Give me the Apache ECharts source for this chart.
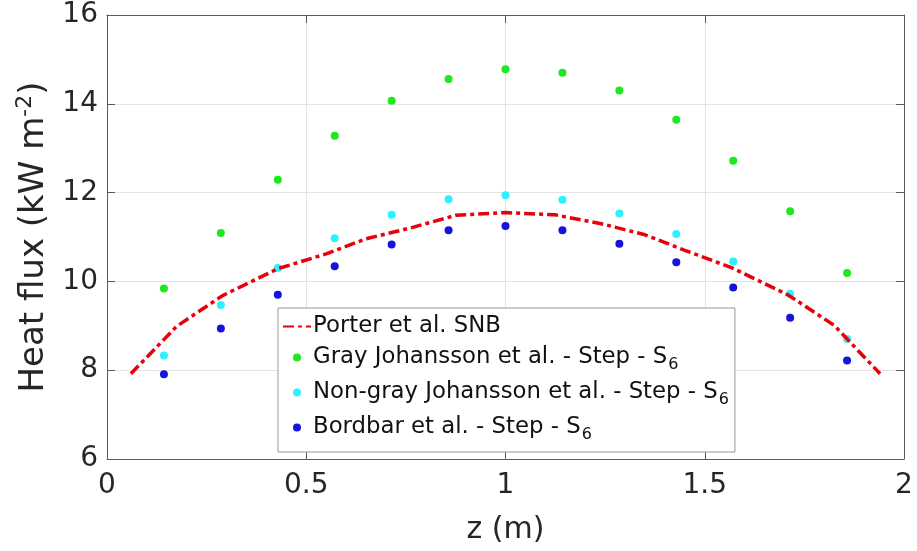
<!DOCTYPE html>
<html><head><meta charset="utf-8">
<script src="https://cdn.jsdelivr.net/npm/echarts@6/dist/echarts.min.js"></script>
<style>html,body{margin:0;padding:0;background:#fff}#c{width:917px;height:551px}</style>
</head><body><div id="c"></div>
<script>
var zPoints = [1/7, 2/7, 3/7, 4/7, 5/7, 6/7, 1, 8/7, 9/7, 10/7, 11/7, 12/7, 13/7];
var grayJoh = [9.84, 11.09, 12.29, 13.28, 14.07, 14.56, 14.78, 14.70, 14.30, 13.64, 12.72, 11.58, 10.19];
var nonGrayJoh = [8.33, 9.47, 10.30, 10.97, 11.50, 11.85, 11.94, 11.84, 11.53, 11.07, 10.45, 9.72, 8.70];
var bordbar = [7.91, 8.94, 9.70, 10.34, 10.83, 11.15, 11.25, 11.15, 10.85, 10.43, 9.86, 9.18, 8.22];
var porterZ = [0.06, 0.175, 0.29, 0.43, 0.55, 0.65, 0.76, 0.876, 1.0, 1.124, 1.24, 1.35, 1.45, 1.57, 1.71, 1.825, 1.94];
var porterQ = [7.92, 8.99, 9.68, 10.29, 10.62, 10.96, 11.2, 11.49, 11.55, 11.5, 11.3, 11.05, 10.7, 10.3, 9.69, 9.01, 7.92];
var xTicks = [0, 0.5, 1, 1.5, 2];
var yTicks = [6, 8, 10, 12, 14, 16];
var names = ['Porter et al. SNB', 'Gray Johansson et al. - Step - S_6', 'Non-gray Johansson et al. - Step - S_6', 'Bordbar et al. - Step - S_6'];

function pairs(xs, ys){ return xs.map(function(x,i){ return [x, ys[i]]; }); }

var font = 'DejaVu Sans';
var chart = echarts.init(document.getElementById('c'), null, {renderer:'canvas'});
var axisCol = '#5a5a5a';
chart.setOption({
  animation: false,
  backgroundColor: '#fff',
  grid: {left: 107, right: 13, top: 15, bottom: 92, containLabel: false},
  xAxis: [{
    type: 'value', min: xTicks[0], max: xTicks[xTicks.length-1], interval: 0.5,
    name: 'z (m)', nameLocation: 'middle', nameGap: 56,
    nameTextStyle: {fontFamily: font, fontSize: 30, color: '#262626'},
    axisLine: {show: true, onZero: false, lineStyle: {color: axisCol, width: 1}},
    axisTick: {show: true, inside: true, length: 8, lineStyle: {color: axisCol}},
    axisLabel: {fontFamily: font, fontSize: 28, color: '#262626', margin: 13},
    splitLine: {show: true, lineStyle: {color: '#e3e3e3', width: 1}}
  }, {
    type: 'value', min: 0, max: 2, interval: 0.5, position: 'top',
    axisLine: {show: true, onZero: false, lineStyle: {color: axisCol, width: 1}},
    axisTick: {show: true, inside: true, length: 8, lineStyle: {color: axisCol}},
    axisLabel: {show: false}, splitLine: {show: false}
  }],
  yAxis: [{
    type: 'value', min: yTicks[0], max: yTicks[yTicks.length-1], interval: 2,
    name: 'Heat flux (kW m{sup|-2})', nameLocation: 'middle', nameGap: 46,
    nameTextStyle: {fontFamily: font, fontSize: 34, color: '#262626',
      rich: {sup: {fontFamily: font, fontSize: 22, color: '#262626', padding: [0,0,18,0]}}},
    axisLine: {show: true, onZero: false, lineStyle: {color: axisCol, width: 1}},
    axisTick: {show: true, inside: true, length: 8, lineStyle: {color: axisCol}},
    axisLabel: {fontFamily: font, fontSize: 28, color: '#262626', margin: 9},
    splitLine: {show: true, lineStyle: {color: '#e3e3e3', width: 1}}
  }, {
    type: 'value', min: 6, max: 16, interval: 2, position: 'right',
    axisLine: {show: true, onZero: false, lineStyle: {color: axisCol, width: 1}},
    axisTick: {show: true, inside: true, length: 8, lineStyle: {color: axisCol}},
    axisLabel: {show: false}, splitLine: {show: false}
  }],
  legend: {
    orient: 'vertical', left: 278, top: 308, width: 480,
    backgroundColor: '#fff', borderColor: '#999', borderWidth: 1,
    padding: [7, 6, 9, 4], itemGap: 8, itemWidth: 28, itemHeight: 8,
    data: [
      {name: names[0], itemStyle: {opacity: 0}},
      {name: names[1], icon: 'circle'},
      {name: names[2], icon: 'circle'},
      {name: names[3], icon: 'circle'}
    ],
    formatter: function(n){ return n.replace('_6', '{sub|6}'); },
    textStyle: {fontFamily: font, fontSize: 22.8, color: '#111', padding: [0,0,0,-3],
      rich: {sub: {fontFamily: font, fontSize: 16, color: '#111', padding: [15,0,0,1]}}}
  },
  series: [{
    name: names[0], type: 'line', data: pairs(porterZ, porterQ),
    symbol: 'none', smooth: false, z: 3,
    lineStyle: {color: '#e8000b', width: 3.5, type: [11, 4, 4, 4]},
    itemStyle: {color: '#e8000b'}
  }, {
    name: names[1], type: 'scatter', data: pairs(zPoints, grayJoh),
    symbol: 'circle', symbolSize: 8, itemStyle: {color: '#1ee81e', opacity: 1}
  }, {
    name: names[2], type: 'scatter', data: pairs(zPoints, nonGrayJoh),
    symbol: 'circle', symbolSize: 8, itemStyle: {color: '#2ef0ff', opacity: 1}
  }, {
    name: names[3], type: 'scatter', data: pairs(zPoints, bordbar),
    symbol: 'circle', symbolSize: 8, itemStyle: {color: '#1414dc', opacity: 1}
  }]
});
</script></body></html>
